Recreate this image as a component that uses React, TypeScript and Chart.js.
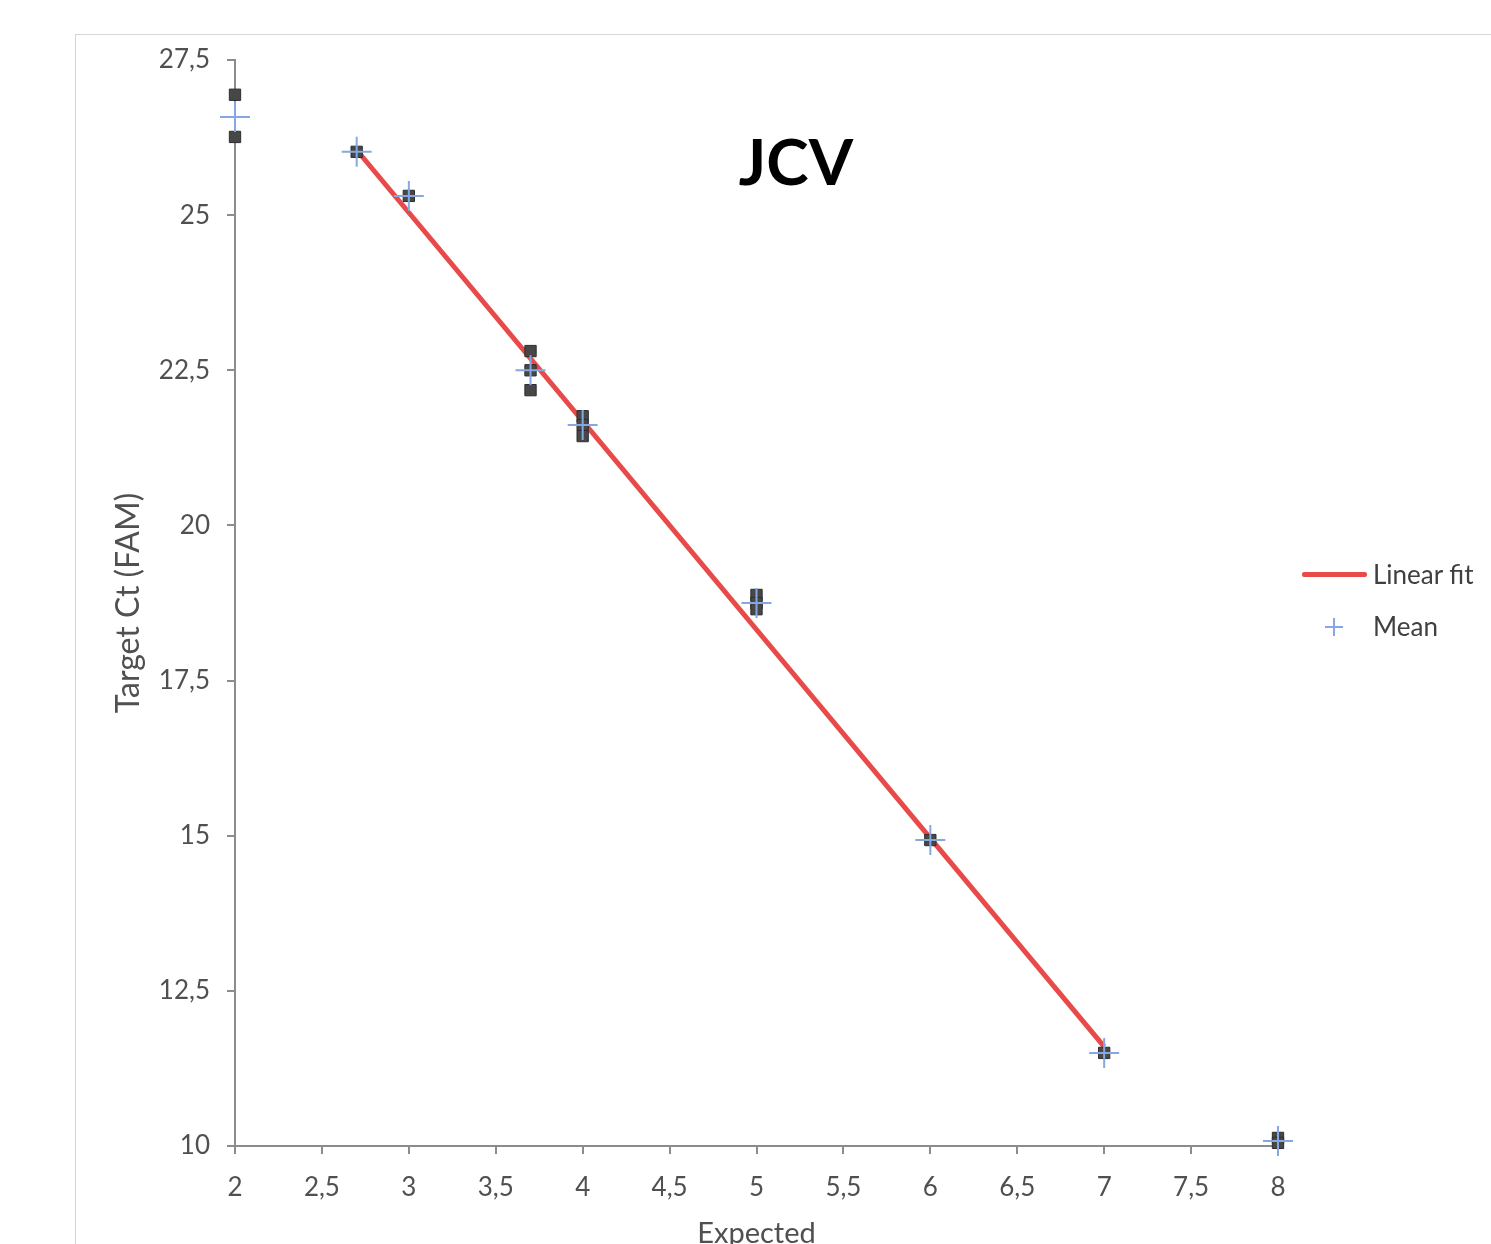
import React, { useEffect, useRef } from "react";
import { Chart, registerables } from "chart.js";

Chart.register(...registerables);

// Replicate measurements
const replicateX = [2, 2, 2.7, 3, 3.7, 3.7, 3.7, 4, 4, 4, 5, 5, 5, 6, 7, 8, 8];
const replicateCt = [26.94, 26.26, 26.02, 25.31, 22.81, 22.5, 22.18, 21.76, 21.62, 21.44, 18.88, 18.75, 18.65, 14.93, 11.5, 10.13, 10.05];

// Means
const meanX = [2, 2.7, 3, 3.7, 4, 5, 6, 7, 8];
const meanCt = [26.58, 26.02, 25.31, 22.5, 21.62, 18.75, 14.93, 11.5, 10.08];

// Linear fit end points
const fitX = [2.7, 7];
const fitCt = [26.05, 11.6];

const xTicks = [2, 2.5, 3, 3.5, 4, 4.5, 5, 5.5, 6, 6.5, 7, 7.5, 8];
const yTicks = [10, 12.5, 15, 17.5, 20, 22.5, 25, 27.5];

const chartTitle = "JCV";
const xTitle = "Expected";
const yTitle = "Target Ct (FAM)";
const legendLabels = ["Linear fit", "Mean"];

const FONT = "Lato, 'Open Sans', sans-serif";
const CANVAS_W = 1415;
const CANVAS_H = 1260;

const fmt = (v: number) => String(v).replace(".", ",");

export default function App() {
  const ref = useRef<HTMLCanvasElement | null>(null);

  useEffect(() => {
    if (!ref.current) return;
    const chart = new Chart(ref.current, {
      type: "scatter",
      data: {
        datasets: [
          {
            label: legendLabels[1],
            data: meanX.map((x, i) => ({ x, y: meanCt[i] })),
            pointStyle: "cross",
            pointRadius: 15,
            pointBorderWidth: 2,
            borderColor: "#86a8e0",
            backgroundColor: "#86a8e0",
            showLine: false,
            clip: false,
            order: 0,
          },
          {
            label: "Data",
            data: replicateX.map((x, i) => ({ x, y: replicateCt[i] })),
            pointStyle: "rect",
            pointRadius: 8,
            pointBorderWidth: 1,
            borderColor: "#2e2e2e",
            backgroundColor: "#474747",
            showLine: false,
            clip: false,
            order: 1,
          },
          {
            label: legendLabels[0],
            data: fitX.map((x, i) => ({ x, y: fitCt[i] })),
            showLine: true,
            pointRadius: 0,
            borderColor: "#e84a4a",
            borderWidth: 5,
            clip: false,
            order: 2,
          },
        ],
      },
      options: {
        responsive: false,
        animation: false,
        layout: { padding: { left: 0, top: 25, right: 213, bottom: 0 } },
        plugins: {
          legend: { display: false },
          tooltip: { enabled: false },
          title: { display: false },
        },
        scales: {
          x: {
            type: "linear",
            min: 2,
            max: 8,
            afterFit: (s: any) => {
              s.height = CANVAS_H - 1111;
              s.paddingLeft = 0;
              s.paddingRight = 0;
            },
            afterBuildTicks: (s: any) => {
              s.ticks = xTicks.map((v) => ({ value: v }));
            },
            ticks: {
              callback: (v: any) => fmt(Number(v)),
              color: "#505050",
              font: { family: FONT, size: 26 },
              padding: 18,
              maxRotation: 0,
              autoSkip: false,
            },
            grid: {
              drawOnChartArea: false,
              drawTicks: true,
              tickLength: 8,
              color: "#8c8c8c",
              lineWidth: 2,
            },
            border: { color: "#8c8c8c", width: 2 },
            title: {
              display: true,
              text: xTitle,
              color: "#505050",
              font: { family: FONT, size: 29 },
              padding: { top: 0, bottom: 44 },
            },
          },
          y: {
            type: "linear",
            min: 10,
            max: 27.5,
            afterFit: (s: any) => {
              s.width = 159;
              s.paddingTop = 0;
              s.paddingBottom = 0;
            },
            afterBuildTicks: (s: any) => {
              s.ticks = yTicks.map((v) => ({ value: v }));
            },
            ticks: {
              callback: (v: any) => fmt(Number(v)),
              color: "#505050",
              font: { family: FONT, size: 26 },
              padding: 17,
              autoSkip: false,
            },
            grid: {
              drawOnChartArea: false,
              drawTicks: true,
              tickLength: 8,
              color: "#8c8c8c",
              lineWidth: 2,
            },
            border: { color: "#8c8c8c", width: 2 },
            title: {
              display: true,
              text: yTitle,
              color: "#505050",
              font: { family: FONT, size: 32 },
              padding: { top: 33, bottom: 0 },
            },
          },
        },
      },
    });
    return () => chart.destroy();
  }, []);

  return (
    <div
      style={{
        position: "absolute",
        left: 75,
        top: 34,
        width: 1416,
        height: 1210,
        boxSizing: "border-box",
        borderLeft: "1.5px solid #d6d6d6",
        borderTop: "1.5px solid #d6d6d6",
        overflow: "hidden",
        background: "#fff",
      }}
    >
      <canvas
        ref={ref}
        width={CANVAS_W}
        height={CANVAS_H}
        style={{ position: "absolute", left: 0, top: 0, width: CANVAS_W, height: CANVAS_H, display: "block" }}
      />
      {/* Chart title */}
      <div
        style={{
          position: "absolute",
          left: 796 - 76 - 150,
          width: 300,
          top: 129 - 35,
          textAlign: "center",
          font: `bold 64px ${FONT}`,
          lineHeight: "64px",
          color: "#000",
        }}
      >
        {chartTitle}
      </div>
      {/* Legend */}
      <div
        style={{
          position: "absolute",
          left: 1302 - 76,
          top: 574 - 35 - 2.5,
          width: 65,
          height: 5,
          background: "#e84a4a",
          borderRadius: 2,
        }}
      />
      <div
        style={{
          position: "absolute",
          left: 1373 - 76,
          top: 559 - 35,
          font: `26px ${FONT}`,
          lineHeight: "30px",
          color: "#404040",
          whiteSpace: "nowrap",
        }}
      >
        {legendLabels[0]}
      </div>
      <div style={{ position: "absolute", left: 1325 - 76, top: 627 - 35 - 1, width: 18, height: 2, background: "#86a8e0" }} />
      <div style={{ position: "absolute", left: 1333 - 76, top: 618 - 35, width: 2, height: 18, background: "#86a8e0" }} />
      <div
        style={{
          position: "absolute",
          left: 1373 - 76,
          top: 611 - 35,
          font: `26px ${FONT}`,
          lineHeight: "30px",
          color: "#404040",
          whiteSpace: "nowrap",
        }}
      >
        {legendLabels[1]}
      </div>
    </div>
  );
}
